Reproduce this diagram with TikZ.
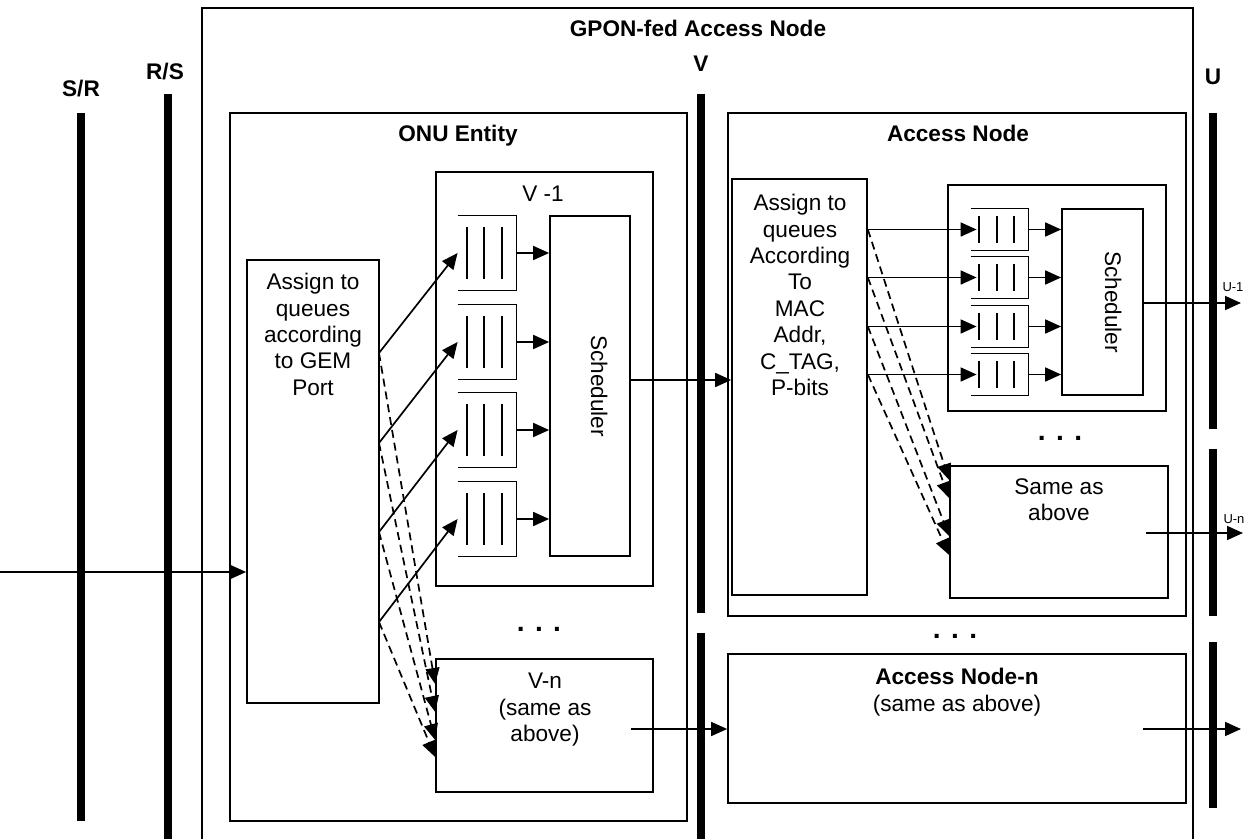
\documentclass[tikz,border=0pt]{standalone}
\usepackage{fontspec}
\setmainfont{Liberation Sans}
\usetikzlibrary{arrows.meta,fit,calc}
\begin{document}
\begin{tikzpicture}[x=0.5pt,y=-0.5pt,
  box/.style={draw, line width=0.85pt, inner sep=0pt},
  ghost/.style={inner sep=0pt},
  qline/.style={line width=0.85pt},
  bar/.style={line width=4pt},
  arr/.style={-{Triangle[length=8pt,width=7pt]}, line width=0.85pt},
  darr/.style={arr, dash pattern=on 4pt off 2.5pt},
  txt/.style={font=\fontsize{11.3}{13.2}\selectfont, align=center, inner sep=0pt},
  btxt/.style={font=\fontsize{11.3}{13.2}\selectfont\bfseries, align=center, inner sep=0pt},
  small/.style={font=\fontsize{6.5}{7.5}\selectfont, inner sep=0pt},
  dots/.style={font=\fontsize{14}{16}\selectfont\bfseries, inner sep=0pt}]
\useasboundingbox (0,0) rectangle (1250,839);

% outer GPON-fed access node frame
\draw[line width=0.85pt] (202,839) -- (202,8) -- (1193,8) -- (1193,839);
\node[btxt, anchor=base] (gpon) at (698,37) {GPON-fed Access Node};

% reference point bars
\draw[bar] (81,113) -- (81,821);
\node[btxt, anchor=base] (lsr) at (81,97) {S/R};
\draw[bar] (168,94) -- (168,839);
\node[btxt, anchor=base] (lrs) at (165,80) {R/S};
\draw[bar] (701,94) -- (701,613);
\draw[bar] (701,633) -- (701,839);
\node[btxt, anchor=base] (lv) at (701,72) {V};
\draw[bar] (1213,113) -- (1213,429);
\draw[bar] (1213,449) -- (1213,616);
\draw[bar] (1213,642) -- (1213,808);
\node[btxt, anchor=base] (lu) at (1213,85) {U};

% ONU entity
\node[box, fit={(230,113) (687,821)}] (onu) {};
\node[btxt, anchor=base] (onut) at (458,142) {ONU Entity};
\node[box, fit={(247,260) (379,703)}] (onuA) {};
\node[txt, anchor=north] (onuAt) at (313,273) {Assign to\\queues\\according\\to GEM\\Port};
\node[box, fit={(436,172) (653,586)}] (v1) {};
\node[txt, anchor=base] (v1t) at (543,202) {V -1};
\node[box, fit={(550,216) (630,556)}] (sch1) {};
\node[txt, anchor=base, rotate=-90] (sch1t) at (591,386) {Scheduler};
\node[box, fit={(436,659) (653,792)}] (vn) {};
\node[txt, anchor=north] (vnt) at (545,673) {V-n\\(same as\\above)};
\node[dots, anchor=base] (d1) at (539,632) {. . .};

\foreach \i/\t in {1/216,2/305,3/393,4/482} {
  \node[ghost, fit={(458,\t) (516,\t+74)}] (oq\i) {};
  \draw[qline] (oq\i.north west) -- (oq\i.north east) -- (oq\i.south east) -- (oq\i.south west);
  \foreach \x in {467,484,502} \draw[qline] (\x,\t+11) -- (\x,\t+63);
  \draw[arr] (oq\i.east) -- (oq\i.east -| sch1.west);
}
\foreach \i/\s/\e in {1/353/684,2/443/712,3/532/740,4/622/757} {
  \coordinate (os\i) at (379,\s);
  \coordinate (oe\i) at (436,\e);
  \draw[arr] (os\i) -- (oq\i.west);
  \draw[darr] (os\i) -- (vn.west |- oe\i);
}
\coordinate (in) at (0,572);
\draw[arr] (in) -- (onuA.west |- in);

% Access node
\node[box, fit={(728,113) (1186,616)}] (an) {};
\node[btxt, anchor=base] (ant) at (958,142) {Access Node};
\node[box, fit={(732,179) (867,595)}] (anA) {};
\node[txt, anchor=north] (anAt) at (800,194) {Assign to\\queues\\According\\To\\MAC\\Addr,\\C\_TAG,\\P-bits};
\node[box, fit={(948,185) (1166,411)}] (anI) {};
\node[box, fit={(1062,209) (1143,395)}] (sch2) {};
\node[txt, anchor=base, rotate=-90] (sch2t) at (1105,302) {Scheduler};
\node[box, fit={(950,466) (1168,598)}] (sa) {};
\node[txt, anchor=north] (sat) at (1059,478) {Same as\\above};
\node[dots, anchor=base] (d2) at (1060,441) {. . .};

\foreach \i/\t/\e in {1/209/480,2/257/498,3/306/536,4/354/555} {
  \node[ghost, fit={(971,\t) (1028,\t+41)}] (aq\i) {};
  \draw[qline] (aq\i.north west) -- (aq\i.north east) -- (aq\i.south east) -- (aq\i.south west);
  \foreach \x in {979,997,1014} \draw[qline] (\x,\t+7) -- (\x,\t+34);
  \draw[arr] (aq\i.east) -- (aq\i.east -| sch2.west);
  \coordinate (as\i) at (anA.east |- aq\i.west);
  \coordinate (ae\i) at (950,\e);
  \draw[arr] (as\i) -- ($(aq\i.west)+(6,0)$);
  \draw[darr] (as\i) -- (sa.west |- ae\i);
}

% ONU scheduler to access node
\coordinate (c380) at (0,380);
\draw[arr] (sch1.east |- c380) -- (anA.west |- c380);

% outputs
\coordinate (u1) at (1241,303);
\draw[arr] (sch2.east |- u1) -- (u1);
\node[small, anchor=base] (lu1) at (1233,292) {U-1};
\coordinate (sao) at (1146,533);
\coordinate (un) at (1243,533);
\draw[arr] (sao) -- (un);
\node[small, anchor=base] (lun) at (1234,524) {U-n};

% Access node-n
\node[box, fit={(728,654) (1186,803)}] (ann) {};
\node[txt, anchor=north] (annt) at (957,668) {\textbf{Access Node-n}\\(same as above)};
\node[dots, anchor=base] (d3) at (955,639) {. . .};
\coordinate (vno) at (631,729);
\draw[arr] (vno) -- (ann.west |- vno);
\coordinate (anno) at (1143,729);
\coordinate (annu) at (1241,729);
\draw[arr] (anno) -- (annu);
\end{tikzpicture}
\end{document}
